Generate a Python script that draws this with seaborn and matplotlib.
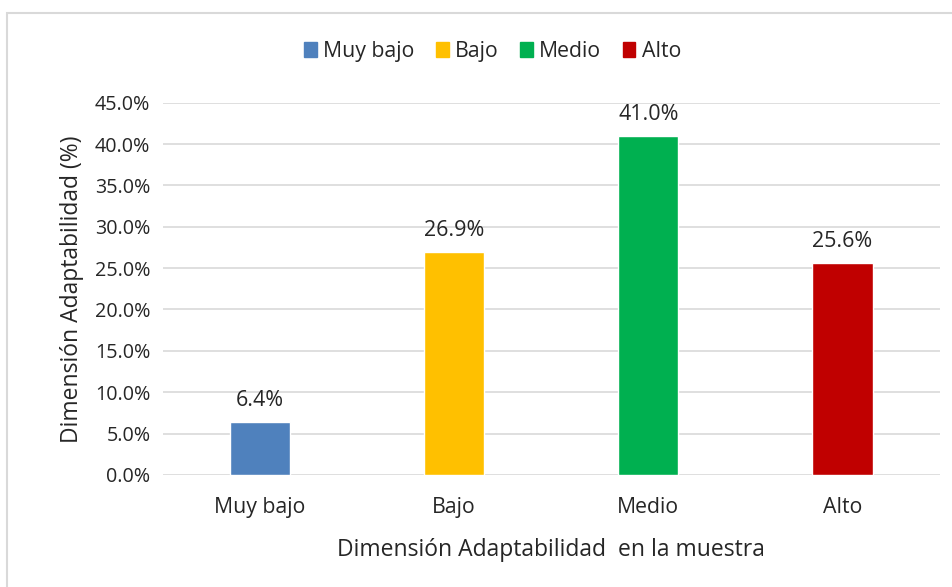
import pandas as pd
import seaborn as sns
import matplotlib.pyplot as plt
from matplotlib.patches import Rectangle

# data
categories = ['Muy bajo', 'Bajo', 'Medio', 'Alto']
percentages = [6.4, 26.9, 41.0, 25.6]
colors = ['#4F81BD', '#FFC000', '#00B050', '#C00000']

df = pd.DataFrame({'nivel': categories, 'pct': [p / 100 for p in percentages]})

sns.set_style('white')
plt.rcParams['font.family'] = ['Open Sans', 'DejaVu Sans']
txt = '#262626'

fig = plt.figure(figsize=(9.53, 5.87), dpi=100)
ax = fig.add_axes([0.171, 0.191, 0.815, 0.634])

sns.barplot(data=df, x='nivel', y='pct', hue='nivel', palette=colors,
            order=categories, hue_order=categories, width=0.31,
            saturation=1, legend=False, ax=ax, zorder=3)

for cont, p in zip(ax.containers, percentages):
    ax.bar_label(cont, labels=['{:.1f}%'.format(p)], padding=8, fontsize=15.5, color=txt)

ax.set_ylim(0, 0.45)
ax.set_xlim(-0.5, 3.5)
ax.set_yticks([i * 0.05 for i in range(10)])
ax.set_yticklabels(['{:.1f}%'.format(i * 5) for i in range(10)])
ax.yaxis.grid(True, color='#D9D9D9', lw=1.2, zorder=0)
ax.tick_params(axis='both', length=0, labelsize=14.2, colors=txt)
ax.tick_params(axis='x', labelsize=15.3, pad=16)
ax.tick_params(axis='y', pad=9)
for s in ax.spines.values():
    s.set_visible(False)

ax.set_xlabel('Dimensión Adaptabilidad  en la muestra', fontsize=16.5, color=txt, labelpad=14)
ax.set_ylabel('Dimensión Adaptabilidad (%)', fontsize=16.5, color=txt, labelpad=8)

# legend on top
handles = [Rectangle((0, 0), 1, 1, color=c) for c in colors]
fig.legend(handles, categories, loc='center', bbox_to_anchor=(0.517, 0.913), ncol=4,
           frameon=False, fontsize=15.3, handlelength=0.6, handleheight=0.7,
           handletextpad=0.3, columnspacing=1.0)

# chart border (cut off at right and bottom like the reference)
fig.patches.append(Rectangle((0.007, -0.1), 1.1, 1.078, transform=fig.transFigure,
                             fill=False, edgecolor='#D9D9D9', lw=1.5))

plt.savefig('out.png', dpi=100)
